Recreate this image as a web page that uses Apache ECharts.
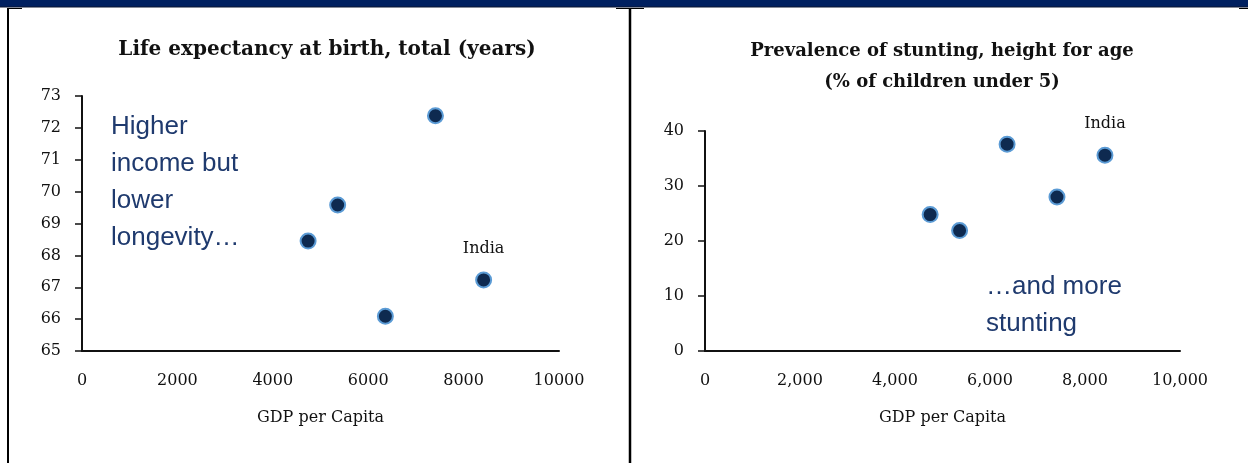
<!DOCTYPE html>
<html>
<head>
<meta charset="utf-8">
<title>GDP per capita vs life expectancy and stunting</title>
<script src="https://cdn.jsdelivr.net/npm/echarts@6/dist/echarts.min.js"></script>
<style>
  html, body { margin: 0; padding: 0; background: #fff; }
  #chart { width: 1248px; height: 463px; }
</style>
</head>
<body>
<div id="chart"></div>
<script>
// GDP per capita of the five countries (India is the last one)
const countries = ["A", "B", "C", "D", "India"];
const gdpPerCapita = [4740, 5360, 6360, 7410, 8420];
const lifeExpectancy = [68.45, 69.58, 66.09, 72.38, 67.23];
const stunting = [24.8, 21.9, 37.6, 28.0, 35.6];

const leftTitle = "Life expectancy at birth, total (years)";
const rightTitle = "Prevalence of stunting, height for age\n(% of children under 5)";
const xName = "GDP per Capita";
const leftNote = "Higher\nincome but\nlower\nlongevity…";
const rightNote = "…and more\nstunting";

const serif = "DejaVu Serif";
const navy = "#1f3a6e";

function points(yValues) {
  return gdpPerCapita.map(function (x, i) {
    let item = { name: countries[i], value: [x, yValues[i]] };
    if (countries[i] === "India") {
      item.label = {
        show: true,
        position: "top",
        distance: 15,
        formatter: "{b}",
        color: "#111",
        fontFamily: serif,
        fontSize: 16,
      };
    }
    return item;
  });
}

function xAxis(gridIndex, withComma) {
  return {
    type: "value",
    gridIndex: gridIndex,
    min: 0,
    max: 10000,
    interval: 2000,
    name: xName,
    nameLocation: "middle",
    nameGap: 59,
    nameTextStyle: { color: "#111", fontFamily: serif, fontSize: 16 },
    splitLine: { show: false },
    axisTick: { show: false },
    axisLine: { lineStyle: { color: "#111", width: 2 } },
    axisLabel: {
      margin: 22,
      color: "#111",
      fontFamily: serif,
      fontSize: 16,
      formatter: function (v) {
        return withComma ? v.toLocaleString("en-US") : String(v);
      },
    },
  };
}

function yAxis(gridIndex, min, max, interval) {
  return {
    type: "value",
    gridIndex: gridIndex,
    min: min,
    max: max,
    interval: interval,
    splitLine: { show: false },
    axisLine: { show: true, lineStyle: { color: "#111", width: 2 } },
    axisTick: { show: true, inside: false, length: 7, lineStyle: { color: "#111", width: 1.5 } },
    axisLabel: { margin: 21, color: "#111", fontFamily: serif, fontSize: 16 },
  };
}

const marker = {
  type: "scatter",
  symbolSize: 15,
  itemStyle: { color: "#0e2a50", borderColor: "#5b9bd5", borderWidth: 2, opacity: 1 },
};

let myChart = echarts.init(document.getElementById("chart"));
let option = {
  animation: false,
  backgroundColor: "#fff",
  title: [
    {
      text: leftTitle,
      left: 322,
      top: 35,
      textAlign: "center",
      textStyle: { fontFamily: serif, fontWeight: "bold", fontSize: 20, color: "#111" },
    },
    {
      text: rightTitle,
      left: 937,
      top: 31,
      textAlign: "center",
      textStyle: { fontFamily: serif, fontWeight: "bold", fontSize: 18, color: "#111", lineHeight: 31 },
    },
  ],
  grid: [
    { left: 82, right: 689, top: 96, bottom: 112 },
    { left: 705, right: 68, top: 131, bottom: 112 },
  ],
  xAxis: [xAxis(0, false), xAxis(1, true)],
  yAxis: [yAxis(0, 65, 73, 1), yAxis(1, 0, 40, 10)],
  series: [
    Object.assign({}, marker, { xAxisIndex: 0, yAxisIndex: 0, data: points(lifeExpectancy) }),
    Object.assign({}, marker, { xAxisIndex: 1, yAxisIndex: 1, data: points(stunting) }),
  ],
  graphic: [
    { type: "rect", shape: { x: 0, y: 0, width: 1248, height: 7 }, style: { fill: "#002060" } },
    { type: "line", shape: { x1: 0, y1: 7, x2: 1248, y2: 7 }, style: { stroke: "#0a1530", lineWidth: 1 } },
    { type: "line", shape: { x1: 8, y1: 8, x2: 8, y2: 463 }, style: { stroke: "#000", lineWidth: 2 } },
    { type: "line", shape: { x1: 630, y1: 8, x2: 630, y2: 463 }, style: { stroke: "#000", lineWidth: 2.5 } },
    { type: "line", shape: { x1: 7, y1: 8.5, x2: 22, y2: 8.5 }, style: { stroke: "#000", lineWidth: 1 } },
    { type: "line", shape: { x1: 616, y1: 8.5, x2: 644, y2: 8.5 }, style: { stroke: "#000", lineWidth: 1 } },
    { type: "line", shape: { x1: 1239, y1: 8.5, x2: 1248, y2: 8.5 }, style: { stroke: "#000", lineWidth: 1 } },
    {
      type: "text",
      left: 111,
      top: 108,
      style: { text: leftNote, fill: navy, font: "26px 'Liberation Sans', Arial, sans-serif", lineHeight: 37 },
    },
    {
      type: "text",
      left: 986,
      top: 268,
      style: { text: rightNote, fill: navy, font: "26px 'Liberation Sans', Arial, sans-serif", lineHeight: 37 },
    },
  ],
};
myChart.setOption(option);
</script>
</body>
</html>
